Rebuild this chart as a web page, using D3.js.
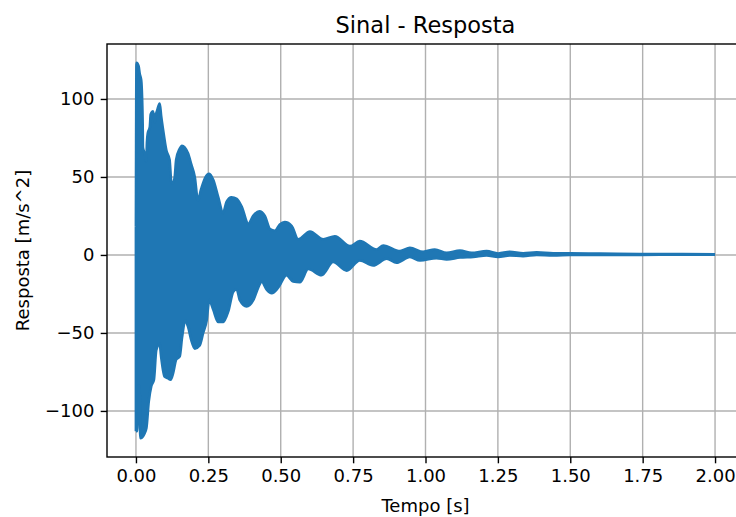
<!DOCTYPE html>
<html>
<head>
<meta charset="utf-8">
<script src="https://cdn.jsdelivr.net/npm/d3@7"></script>
<style>
  body { margin: 0; background: #fff; }
  svg { display: block; font-family: "DejaVu Sans", sans-serif; }
</style>
</head>
<body>
<svg id="chart"></svg>
<script>
var width = 736;
var height = 517;

// upper edge of the response band (time [s], value [m/s^2])
var upperT = [0.000, 0.002, 0.009, 0.013, 0.018, 0.021, 0.023, 0.024, 0.030, 0.036,
  0.038, 0.041, 0.048, 0.051, 0.059, 0.065, 0.067, 0.074, 0.082, 0.087,
  0.093, 0.105, 0.116, 0.122, 0.128, 0.134, 0.139, 0.151, 0.159, 0.168,
  0.180, 0.191, 0.203, 0.214, 0.225, 0.238, 0.253, 0.267, 0.284, 0.301,
  0.313, 0.330, 0.348, 0.365, 0.388, 0.405, 0.426, 0.445, 0.463, 0.480,
  0.497, 0.514, 0.538, 0.560, 0.601, 0.647, 0.687, 0.739, 0.773, 0.831,
  0.854, 0.912, 0.946, 0.992, 1.032, 1.073, 1.119, 1.159, 1.211, 1.251,
  1.291, 1.337, 1.384, 1.441, 1.499, 1.602, 1.740, 1.878, 2.000];
var upperV = [18, 123.2, 121, 116, 112, 101, 85, 69, 65, 60,
  72, 78, 82, 90, 92, 85, 88, 93, 97, 89,
  81, 67, 61, 47, 46, 50, 61, 68, 70, 69,
  65, 58, 50, 35, 42, 49, 52, 48, 37, 27,
  34, 37, 36, 31, 20, 25, 28, 25, 16.5, 15.5,
  19.5, 21, 18.5, 10, 15, 10, 12, 5.6, 8.8, 3.5,
  6, 2.4, 4.5, 2.0, 3.5, 1.3, 2.8, 1.3, 2.4, 0.9,
  2.0, 1.1, 1.6, 1.0, 1.0, 0.8, 0.6, 0.5, 0.4];

// lower edge of the response band
var lowerT = [0.000, 0.004, 0.007, 0.012, 0.015, 0.028, 0.036, 0.044, 0.053, 0.062,
  0.070, 0.082, 0.087, 0.099, 0.110, 0.120, 0.128, 0.139, 0.151, 0.159,
  0.170, 0.180, 0.191, 0.203, 0.220, 0.232, 0.244, 0.253, 0.267, 0.284,
  0.301, 0.319, 0.336, 0.348, 0.359, 0.382, 0.405, 0.422, 0.434, 0.451,
  0.469, 0.491, 0.520, 0.543, 0.566, 0.595, 0.641, 0.681, 0.728, 0.773,
  0.819, 0.866, 0.900, 0.946, 0.981, 1.038, 1.073, 1.119, 1.165, 1.211,
  1.251, 1.291, 1.337, 1.384, 1.441, 1.499, 1.602, 1.740, 1.878, 2.000];
var lowerV = [-113, -113, -84, -84, -117.5, -115, -111, -94, -84, -80,
  -61, -57, -65, -78, -79, -80, -76, -67, -65, -53,
  -42, -46, -54.5, -60, -58, -50, -42, -29, -35, -43,
  -43, -36, -23.5, -22, -29, -33, -29, -21, -17, -22,
  -24.5, -21, -13, -17, -17.5, -9, -13, -4.5, -10, -3.5,
  -6.7, -2.4, -5, -1.3, -3.5, -2.0, -2.8, -1.6, -1.2, -0.3,
  -1.3, -0.3, -0.7, 0.0, -0.3, 0.0, 0.1, 0.1, 0.2, 0.2];

var xTicks = [0, 0.25, 0.5, 0.75, 1.0, 1.25, 1.5, 1.75, 2.0];
var yTicks = [-100, -50, 0, 50, 100];

var margin = {top: 44, right: -8, bottom: 60, left: 107};
var tickLen = 6.3;
var fontSize = 18;
var lineColor = "#1f77b4";

var svg = d3.select("#chart")
    .attr("width", width)
    .attr("height", height);

svg.append("rect")
    .attr("width", width)
    .attr("height", height)
    .attr("fill", "#fff");

var upper = upperT.map(function(t, i) { return {t: t, v: upperV[i]}; });
var lower = lowerT.map(function(t, i) { return {t: t, v: lowerV[i]}; });

// matplotlib style 5% margins
var xExt = d3.extent(upperT.concat(lowerT));
var yExt = d3.extent(upperV.concat(lowerV));
var xPad = (xExt[1] - xExt[0]) * 0.05;
var yPad = (yExt[1] - yExt[0]) * 0.05;

var x = d3.scaleLinear()
    .domain([xExt[0] - xPad, xExt[1] + xPad])
    .range([margin.left, width - margin.right]);
var y = d3.scaleLinear()
    .domain([yExt[0] - yPad, yExt[1] + yPad])
    .range([height - margin.bottom, margin.top]);

var plotLeft = margin.left, plotRight = width - margin.right;
var plotTop = margin.top, plotBottom = height - margin.bottom;

// grid
var grid = svg.append("g");
grid.selectAll(".vgrid")
    .data(xTicks)
    .enter().append("line")
    .attr("x1", function(d) { return x(d); })
    .attr("x2", function(d) { return x(d); })
    .attr("y1", plotTop)
    .attr("y2", plotBottom)
    .attr("stroke", "#b0b0b0")
    .attr("stroke-width", 1.4);
grid.selectAll(".hgrid")
    .data(yTicks)
    .enter().append("line")
    .attr("x1", plotLeft)
    .attr("x2", plotRight)
    .attr("y1", function(d) { return y(d); })
    .attr("y2", function(d) { return y(d); })
    .attr("stroke", "#b0b0b0")
    .attr("stroke-width", 1.4);

// the response is so dense it shows as a filled band: fill each edge to zero
var area = d3.area()
    .curve(d3.curveMonotoneX)
    .x(function(d) { return x(d.t); })
    .y0(y(0))
    .y1(function(d) { return y(d.v); });
var edge = d3.line()
    .curve(d3.curveMonotoneX)
    .x(function(d) { return x(d.t); })
    .y(function(d) { return y(d.v); });

var sig = svg.append("g");
[upper, lower].forEach(function(pts) {
  sig.append("path")
      .attr("d", area(pts))
      .attr("fill", lineColor);
  sig.append("path")
      .attr("d", edge(pts))
      .attr("fill", "none")
      .attr("stroke", lineColor)
      .attr("stroke-width", 2.7)
      .attr("stroke-linejoin", "round");
});
// first sample: the line drops straight from the start value to the first trough
sig.append("path")
    .attr("d", edge([upper[0], lower[0]]))
    .attr("stroke", lineColor)
    .attr("stroke-width", 2.7);

// axes
var xAxis = d3.axisBottom(x)
    .tickValues(xTicks)
    .tickFormat(d3.format(".2f"))
    .tickSizeInner(tickLen)
    .tickSizeOuter(0)
    .tickPadding(6.3);
var yAxis = d3.axisLeft(y)
    .tickValues(yTicks)
    .tickFormat(d3.format("d"))
    .tickSizeInner(tickLen)
    .tickSizeOuter(0)
    .tickPadding(6.3);

var gx = svg.append("g")
    .attr("transform", "translate(0," + plotBottom + ")")
    .call(xAxis);
var gy = svg.append("g")
    .attr("transform", "translate(" + plotLeft + ",0)")
    .call(yAxis);

[gx, gy].forEach(function(g) {
  g.select(".domain").remove();
  g.selectAll(".tick line").attr("stroke", "#000").attr("stroke-width", 1.4);
  g.selectAll(".tick text")
      .attr("fill", "#000")
      .style("font-size", fontSize + "px")
      .style("font-family", "DejaVu Sans");
});

// spines
svg.append("rect")
    .attr("x", plotLeft)
    .attr("y", plotTop)
    .attr("width", plotRight - plotLeft)
    .attr("height", plotBottom - plotTop)
    .attr("fill", "none")
    .attr("stroke", "#000")
    .attr("stroke-width", 1.4);

// labels
svg.append("text")
    .attr("x", (plotLeft + plotRight) / 2)
    .attr("y", 33)
    .attr("text-anchor", "middle")
    .style("font-size", "22.5px")
    .text("Sinal - Resposta");

svg.append("text")
    .attr("x", (plotLeft + plotRight) / 2)
    .attr("y", 512)
    .attr("text-anchor", "middle")
    .style("font-size", fontSize + "px")
    .text("Tempo [s]");

svg.append("text")
    .attr("transform", "translate(29," + ((plotTop + plotBottom) / 2) + ") rotate(-90)")
    .attr("text-anchor", "middle")
    .style("font-size", fontSize + "px")
    .text("Resposta [m/s^2]");
</script>
</body>
</html>
